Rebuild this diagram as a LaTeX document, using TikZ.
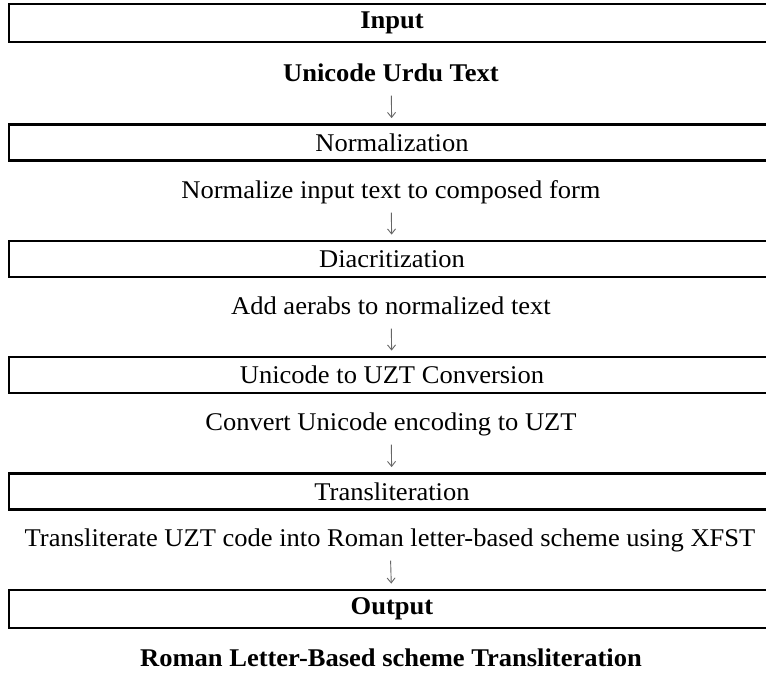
\documentclass[tikz,border=0pt]{standalone}
\usepackage{fontspec}
\setmainfont[FakeStretch=1.04]{Liberation Serif}
\usetikzlibrary{arrows.meta}
\tikzset{
  stagebox/.style={draw=black, line width=2.8pt, minimum width=766pt, minimum height=36pt, inner sep=0pt, font=\fontsize{25.5}{30}\selectfont},
  ioBox/.style={stagebox, minimum height=38pt, font=\fontsize{25.5}{30}\selectfont\bfseries},
  desc/.style={inner sep=0pt, text height=18pt, text depth=5pt, font=\fontsize{25.5}{30}\selectfont},
  descb/.style={desc, font=\fontsize{25.5}{30}\selectfont\bfseries},
  arr/.style={draw=black!60, line width=0.9pt, -{Straight Barb[length=5pt,width=8pt]}, shorten <=9pt, shorten >=5pt}
}
\begin{document}
\begin{tikzpicture}[x=1pt,y=-1pt]
\useasboundingbox (0,0) rectangle (766,679);
\clip (0,0) rectangle (766,679);
\node[ioBox] (b1) at (392,23) {Input};
\node[descb] (t1) at (391,75) {Unicode Urdu Text};
\node[stagebox] (b2) at (392,142.5) {Normalization};
\node[desc] (t2) at (391,192) {Normalize input text to composed form};
\node[stagebox] (b3) at (392,259) {Diacritization};
\node[desc] (t3) at (391,308) {Add aerabs to normalized text};
\node[stagebox] (b4) at (392,375) {Unicode to UZT Conversion};
\node[desc] (t4) at (391,424) {Convert Unicode encoding to UZT};
\node[stagebox] (b5) at (392,491.5) {Transliteration};
\node[desc] (t5) at (390,540) {Transliterate UZT code into Roman letter-based scheme using XFST};
\node[ioBox] (b6) at (392,609) {Output};
\node[descb] (t6) at (391,660) {Roman Letter-Based scheme Transliteration};
\draw[arr] (t1) -- (b2);
\draw[arr] (t2) -- (b3);
\draw[arr] (t3) -- (b4);
\draw[arr] (t4) -- (b5);
\draw[arr] (t5) -- (b6);
\end{tikzpicture}
\end{document}
